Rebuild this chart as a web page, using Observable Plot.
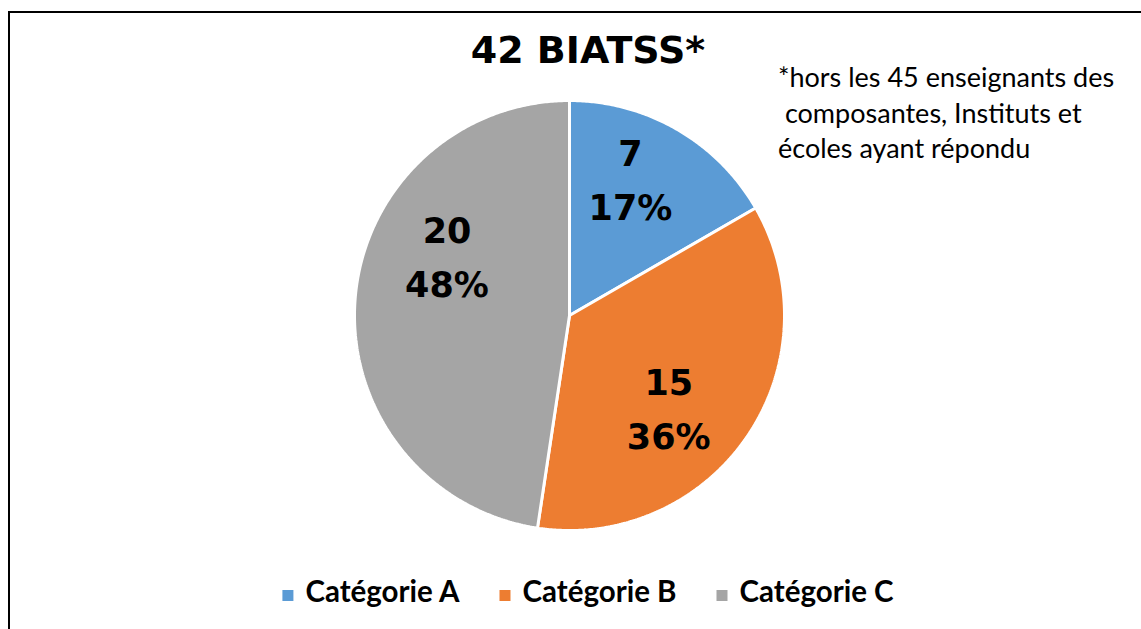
<!DOCTYPE html>
<html><head><meta charset="utf-8">
<script src="https://cdn.jsdelivr.net/npm/d3@7"></script>
<script src="https://cdn.jsdelivr.net/npm/@observablehq/plot@0.6"></script>
<style>html,body{margin:0;padding:0;background:#fff;overflow:hidden}</style>
</head><body><div id="chart"></div>
<script>
// ---- data ----
const categories = ["Catégorie A", "Catégorie B", "Catégorie C"];
const counts = [7, 15, 20];
const colors = ["#5B9BD5", "#ED7D31", "#A5A5A5"];
const title = "42 BIATSS*";
const noteLines = ["*hors les 45 enseignants des", " composantes, Instituts et", "écoles ayant répondu"];

// ---- layout ----
const W = 1141, H = 629;
const R = 215; // pixels per unit radius
const labelNudge = [[-10, -17], [-18, 9], [19, -52]]; // px

const total = d3.sum(counts);
const arcs = d3.pie().sort(null).value(d => d)(counts);
const pts = [];
arcs.forEach((a, i) => {
  const cat = categories[i];
  pts.push({cat, x: 0, y: 0});
  const n = Math.max(2, Math.ceil((a.endAngle - a.startAngle) / (Math.PI / 360)));
  for (let k = 0; k <= n; k++) {
    const t = a.startAngle + (a.endAngle - a.startAngle) * k / n;
    pts.push({cat, x: Math.sin(t), y: Math.cos(t)});
  }
  pts.push({cat, x: 0, y: 0});
});
const labels = arcs.map((a, i) => {
  const m = (a.startAngle + a.endAngle) / 2;
  return {
    cat: categories[i],
    x: 0.66 * Math.sin(m) + labelNudge[i][0] / R,
    y: 0.66 * Math.cos(m) - labelNudge[i][1] / R,
    text: `${counts[i]}\n${Math.round(counts[i] / total * 100)}%`
  };
});

const cx = 569, cy = 315;
const svg = Plot.plot({
  width: W, height: H, margin: 0,
  x: {domain: [-1, 1], range: [cx - R, cx + R], axis: null},
  y: {domain: [-1, 1], range: [cy + R, cy - R], axis: null},
  color: {domain: categories, range: colors},
  style: {background: "transparent", overflow: "visible"},
  marks: [
    Plot.line(pts, {x: "x", y: "y", z: "cat", fill: "cat", stroke: "#fff", strokeWidth: 3, strokeLinejoin: "miter"}),
    Plot.text(labels, {x: "x", y: "y", text: "text", fontSize: 35, fontWeight: "bold",
      fontFamily: "DejaVu Sans", lineHeight: 1.55, fill: "#000", lineAnchor: "middle"})
  ]
});
document.getElementById("chart").appendChild(svg);

const s = d3.select(svg);
// frame
s.insert("rect", ":first-child").attr("x", 9).attr("y", 12).attr("width", 1300).attr("height", 800)
  .attr("fill", "#fff").attr("stroke", "#000").attr("stroke-width", 2);
// title
s.append("text").attr("x", 588).attr("y", 63).attr("text-anchor", "middle")
  .attr("font-family", "DejaVu Sans").attr("font-weight", "bold").attr("font-size", 38)
  .attr("fill", "#000").text(title);
// note
noteLines.forEach((line, i) => {
  s.append("text").attr("x", 778).attr("y", 87 + i * 35.5).attr("text-anchor", "start")
    .attr("font-family", "Lato").attr("font-size", 27).attr("fill", "#000")
    .style("white-space", "pre").text(line);
});
// legend
const gap = 40;
const lg = s.append("g");
let lx = 0;
categories.forEach((c, i) => {
  const g = lg.append("g").attr("transform", `translate(${lx},0)`);
  g.append("rect").attr("x", 0).attr("y", -12).attr("width", 11).attr("height", 11).attr("fill", colors[i]);
  const t = g.append("text").attr("x", 23).attr("y", 0).attr("text-anchor", "start")
    .attr("font-family", "Lato").attr("font-weight", "bold")
    .attr("font-size", 29.5).attr("fill", "#000").text(c);
  lx += 23 + t.node().getComputedTextLength() + gap;
});
const legendW = lx - gap;
lg.attr("transform", `translate(${588 - legendW / 2},602)`);
</script></body></html>
